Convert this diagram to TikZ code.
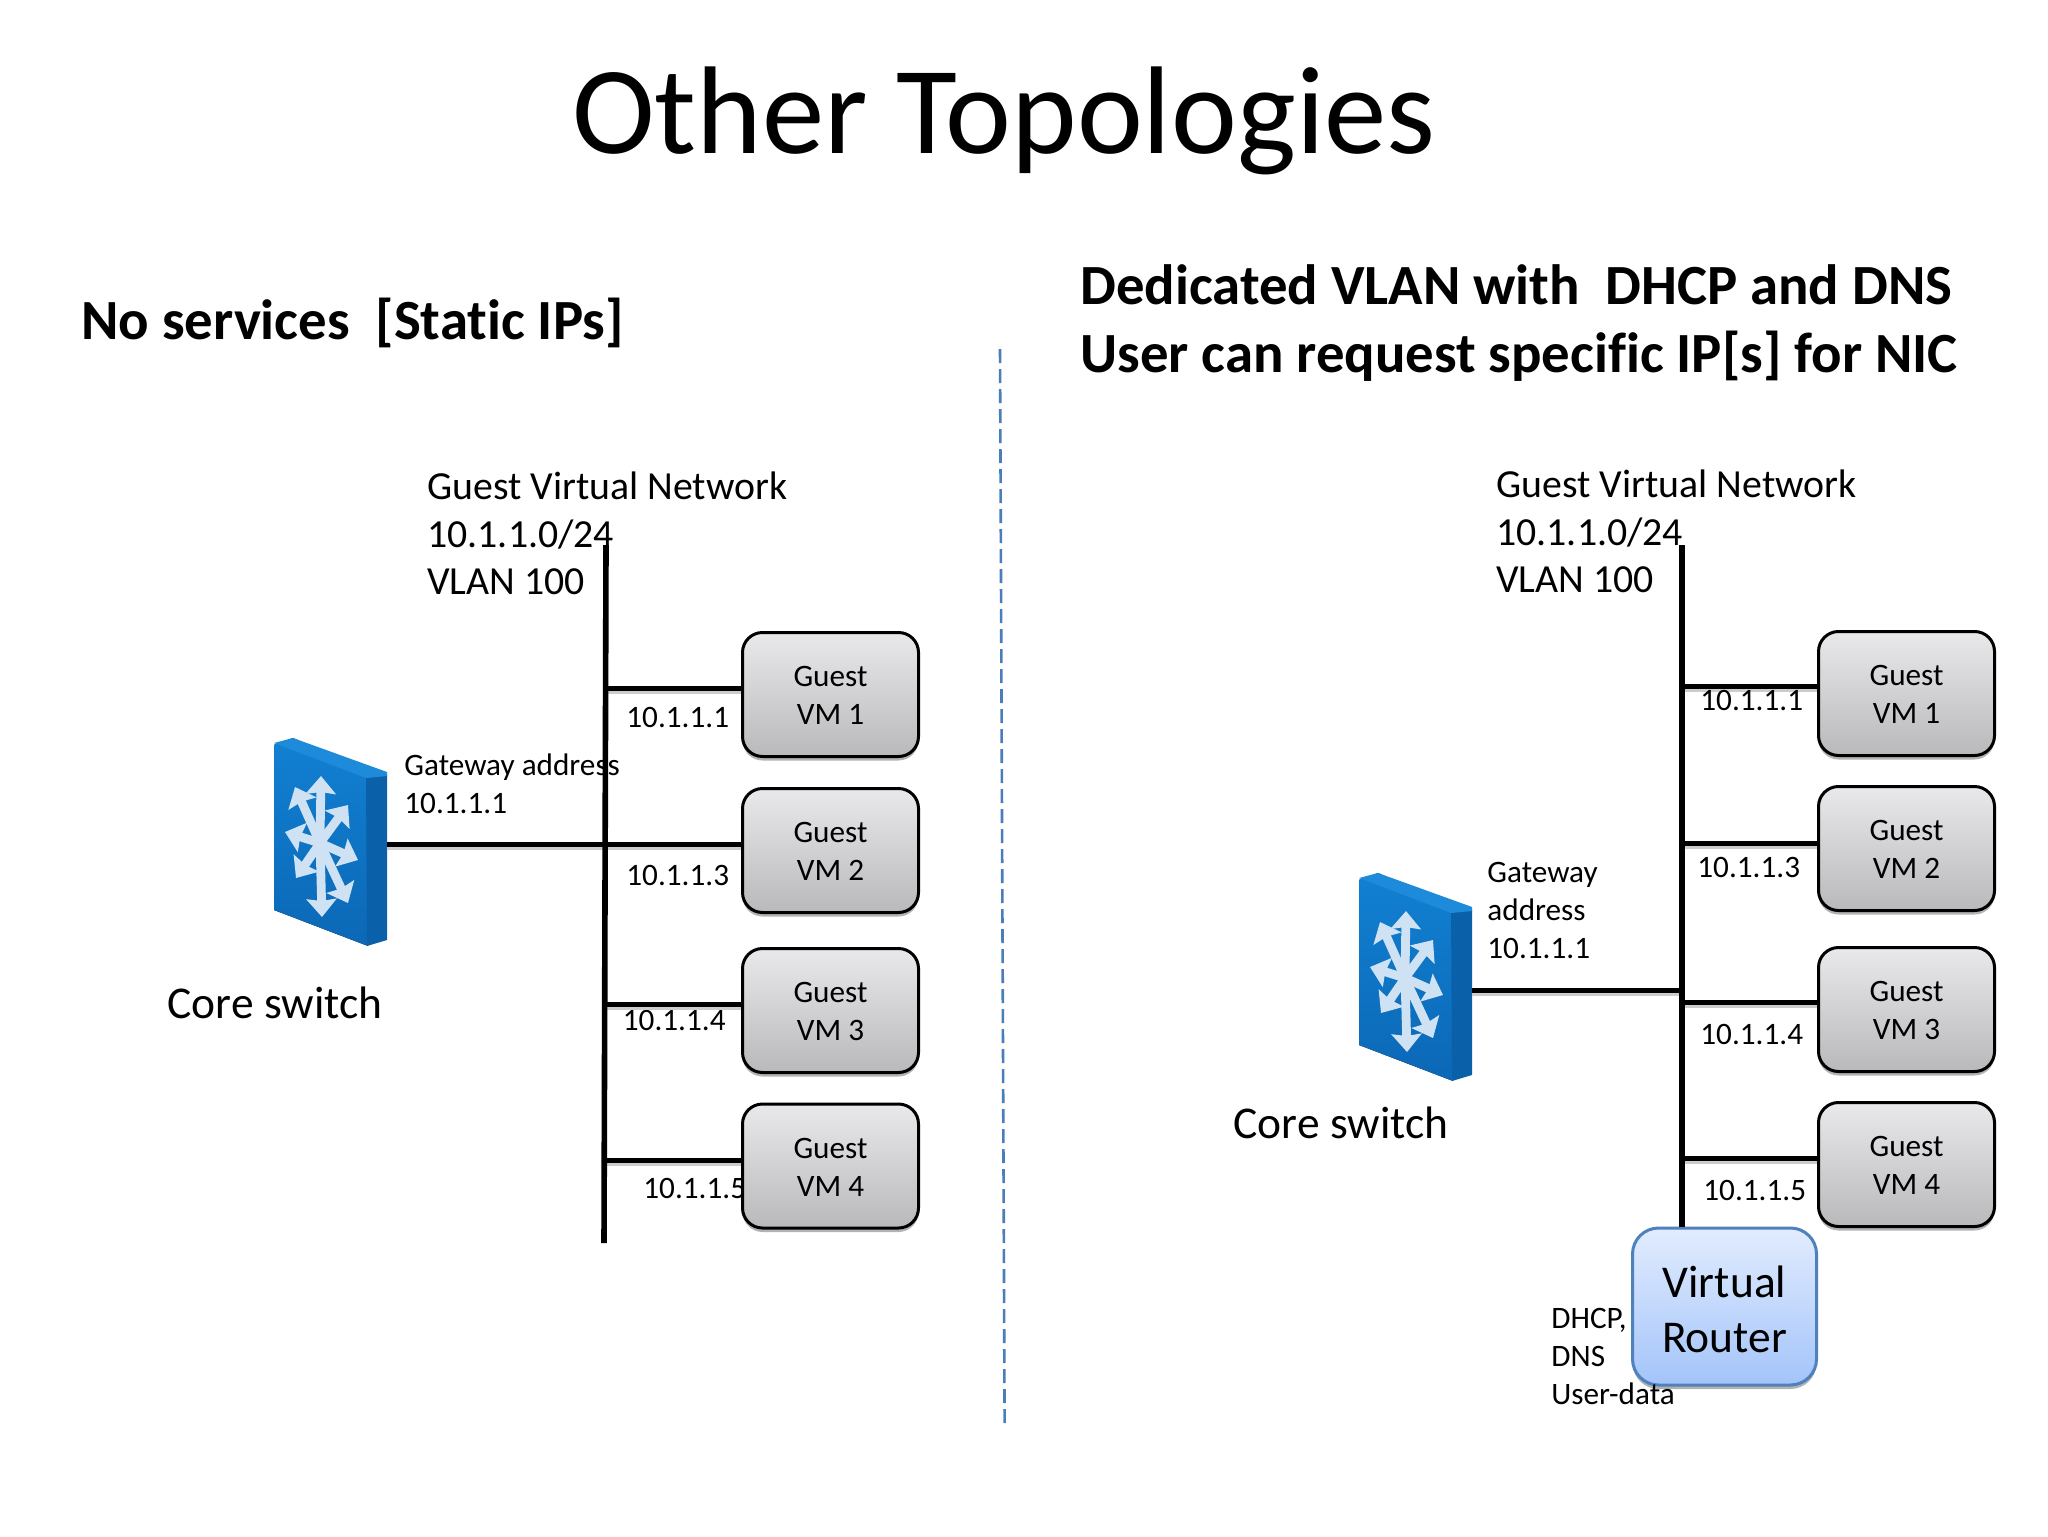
\documentclass[tikz,border=0pt]{standalone}
\usepackage{fontspec}
\setmainfont{Carlito}[Ligatures=NoCommon]
\usetikzlibrary{shadows,arrows.meta,calc}
\definecolor{dashblue}{HTML}{4A7EBB}
\definecolor{routerline}{HTML}{4F81BD}
\definecolor{flake}{HTML}{CFE2F3}
\newcommand{\fs}[2]{\fontsize{#1}{#2}\selectfont}
\newcommand{\gl}[3][-5.5pt]{\raisebox{#1}[0pt][0pt]{\begin{tabular}{@{}c@{}}#2\\#3\end{tabular}}}
\tikzset{
  x=0.5pt,y=-0.5pt,
  wire/.style={line width=2.5pt,black,preaction={draw=black!20,line width=2.5pt,transform canvas={yshift=-1.5pt}}},
  bus/.style={line width=2.8pt,black},
  guest/.style={draw=black,line width=1.5pt,rounded corners=10pt,top color=HG1,bottom color=HG2,minimum width=88pt,minimum height=62pt,inner sep=0pt,align=center,
    font=\fs{15.6}{19},drop shadow={shadow xshift=0pt,shadow yshift=-2pt,opacity=.3,fill=black}},
  router/.style={draw=routerline,line width=1.5pt,rounded corners=13pt,top color=RG1,bottom color=RG2,minimum width=92pt,minimum height=78.5pt,inner sep=0pt,align=center,
    font=\fs{22.75}{27.5},drop shadow={shadow xshift=0pt,shadow yshift=-2pt,opacity=.3,fill=black}},
  small/.style={font=\fs{15.6}{19},align=left,inner sep=0pt},
  mid/.style={font=\fs{19.9}{23.8},align=left,inner sep=0pt},
  head/.style={font=\fs{28.4}{34}\bfseries,align=left,inner sep=0pt},
  swbox/.style={minimum width=56.5pt,minimum height=104pt,inner sep=0pt},
  ray/.style={draw=flake,line width=4.4pt,-{Stealth[length=9pt,width=15pt,inset=1pt]}},
  coreswitch/.pic={
    \fill[top color=HB1,bottom color=HB2] (274,745) -- (293,738) -- (368,772) -- (368,946) -- (274,910) -- cycle;
    \fill[HB3] (366,775) -- (387,775) -- (387,940) -- (367,946) -- cycle;
    \fill[HB4] (274,743) -- (293,738) -- (387,772) -- (387,776) -- (366,778) -- cycle;
    \foreach \tx/\ty in {321/776,322/917,285/832,358/860,295/787,348/805,296/878,348/903}
      \draw[ray] (320,843) -- (\tx,\ty);
  }
}
\definecolor{HG1}{HTML}{E9E9EB}
\definecolor{HG2}{HTML}{B9B9BB}
\definecolor{RG1}{HTML}{E2ECFE}
\definecolor{RG2}{HTML}{A3C4FA}
\definecolor{HB1}{HTML}{1280D2}
\definecolor{HB2}{HTML}{0B68B6}
\definecolor{HB3}{HTML}{0B60AA}
\definecolor{HB4}{HTML}{1E8ADA}
\begin{document}
\begin{tikzpicture}
\useasboundingbox[fill=white] (0,0) rectangle (2048,1536);
% headings
\node[anchor=base,inner sep=0pt,font=\fs{62.4}{75}] (title) at (1004,153) {Other Topologies};
\node[head,anchor=base west] (subL) at (81,339) {No services\ \ [Static IPs]};
\node[head,anchor=base west] (subR1) at (1080,304) {Dedicated VLAN with\ \ DHCP and DNS};
\node[head,anchor=base west] (subR2) at (1080,372) {User can request specific IP[s] for NIC};
% divider
\coordinate (divT) at (1000,349);
\coordinate (divB) at (1004.6,1425);
\draw[dashblue,line width=1.3pt,dash pattern=on 7pt off 3pt] (divT) -- (divB);
% left text
\node[mid,anchor=west] (netL) at (427,533.5) {Guest Virtual Network\\10.1.1.0/24\\VLAN 100};
\node[small,anchor=west] (gwL) at (404,784) {Gateway address\\10.1.1.1};
\node[small,anchor=west] (a1) at (626,717) {10.1.1.1};
\node[small,anchor=west] (a2) at (626,875) {10.1.1.3};
\node[small,anchor=west] (a3) at (622.5,1020) {10.1.1.4};
\node[small,anchor=west] (a4) at (643,1188) {10.1.1.5};
\node[mid,anchor=center,font=\fs{22.75}{27}] (coreL) at (275,1003) {Core switch};
% left VMs
\node[guest] (v1) at (830.5,694.5) {\gl{Guest}{VM 1}};
\node[guest] (v2) at (830.5,850.5) {\gl{Guest}{VM 2}};
\node[guest] (v3) at (830.5,1010.5) {\gl{Guest}{VM 3}};
\node[guest] (v4) at (830.5,1166) {\gl{Guest}{VM 4}};
\coordinate (j1) at (605.5,688);
\coordinate (j2) at (605,844);
\coordinate (j3) at (605,1004);
\coordinate (j4) at (604.5,1160);
\draw[wire] (j1) -- (v1.west|-j1);
\draw[wire] (j2) -- (v2.west|-j2);
\draw[wire] (j3) -- (v3.west|-j3);
\draw[wire] (j4) -- (v4.west|-j4);
% left switch
\node[swbox] (swL) at (330.5,844) {};
\pic at (0,0) {coreswitch};
\draw[wire] (swL.east) -- (j2);
% left bus
\coordinate (busLT) at (606,545);
\coordinate (busLB) at (604,1243);
\draw[bus] (busLT) -- (busLB);
% right text
\node[mid,anchor=west] (netR) at (1496,531.5) {Guest Virtual Network\\10.1.1.0/24\\VLAN 100};
\node[small,anchor=west] (gwR) at (1487,910) {Gateway\\address\\10.1.1.1};
\node[mid,anchor=center,font=\fs{22.75}{27}] (coreR) at (1341,1123) {Core switch};
% right bus
\coordinate (busRT) at (1682,545);
\node[router] (vr) at (1724.5,1306.5) {\gl[-9pt]{Virtual}{Router}};
\node[small,anchor=west] (dhcp) at (1551,1356) {DHCP,\\DNS\\User-data};
% right VMs
\node[guest] (w1) at (1906.5,693.5) {\gl{Guest}{VM 1}};
\node[guest] (w2) at (1906.5,848.5) {\gl{Guest}{VM 2}};
\node[guest] (w3) at (1906.5,1009.5) {\gl{Guest}{VM 3}};
\node[guest] (w4) at (1906.5,1164.5) {\gl{Guest}{VM 4}};
\coordinate (k1) at (1681.5,686);
\coordinate (k2) at (1681,843);
\coordinate (k3) at (1680.5,1002.5);
\coordinate (k4) at (1680,1158);
\draw[wire] (k1) -- (w1.west|-k1);
\draw[wire] (k2) -- (w2.west|-k2);
\draw[wire] (k3) -- (w3.west|-k3);
\draw[wire] (k4) -- (w4.west|-k4);
\node[small,anchor=west] (b1) at (1700,700) {10.1.1.1};
\node[small,anchor=west] (b2) at (1697,867) {10.1.1.3};
\node[small,anchor=west] (b3) at (1700,1034) {10.1.1.4};
\node[small,anchor=west] (b4) at (1703,1190) {10.1.1.5};
% right switch
\node[swbox] (swR) at (1415.5,979) {};
\pic at (1085,135) {coreswitch};
\coordinate (kg) at (1679,990);
\draw[wire] (swR.east|-kg) -- (kg);
\draw[bus] (busRT) -- (busRT|-vr.north);
\end{tikzpicture}
\end{document}
